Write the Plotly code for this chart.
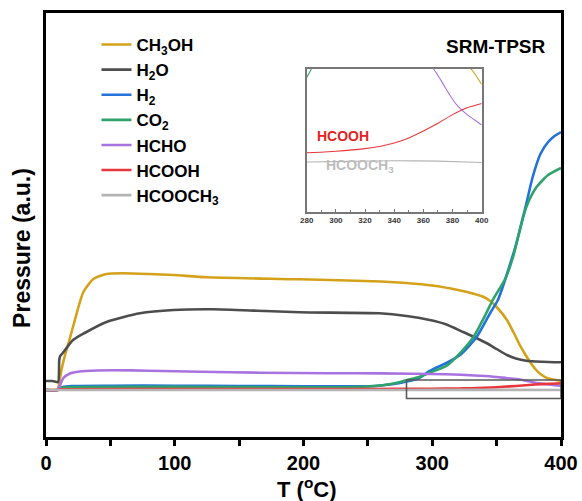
import plotly.graph_objects as go

# ---------------- data (temperature in °C, pressure in arbitrary units) ----------------
T_ch3oh = [0, 9, 10, 12, 15, 18.6, 22, 29, 36.8, 47, 60, 80, 99, 125, 197, 260, 280, 300, 320, 330, 340, 345, 350, 358, 363, 368, 372, 376, 380, 384, 390, 395, 400]
ch3oh   = [0, 0.5, 5, 20, 36, 52, 68, 98, 111, 116, 116.7, 116, 115, 112.7, 110.7, 108.5, 107, 104.5, 100, 97, 93, 89, 83, 70, 58, 45, 36, 28, 21, 16, 11.5, 10.3, 9]

T_h2o = [0, 5, 8, 9.5, 10.3, 11, 13, 21, 30, 47, 73, 99, 130, 164, 197, 259, 280, 298, 310, 324, 330, 342, 350, 358, 365, 373, 385, 400]
h2o   = [9, 9, 8, 8, 30, 34, 37, 50, 57, 68, 76.7, 80, 80.7, 79.3, 77.7, 76.7, 74, 70, 66, 58, 54.5, 47, 41, 35, 31.5, 29.3, 28.3, 27.7]

T_h2 = [0, 9, 10, 13, 20, 50, 100, 150, 200, 230, 250, 260, 270, 280, 290, 298, 311, 321.6, 334.5, 345, 351, 355, 360, 365, 370, 373, 378, 384, 390, 395, 400]
h2   = [0, 0, 1, 3, 4, 4.3, 4.3, 4, 3.8, 3.6, 3.8, 4.5, 6, 8.5, 12, 19, 27, 35, 53, 77, 90, 104, 124, 145, 170, 186, 213, 236, 248, 254, 258]

T_co2 = [0, 9, 10, 13, 20, 100, 200, 230, 250, 260, 270, 280, 290, 298, 311, 319, 332, 342, 347, 357, 363, 367, 371, 375, 381, 390, 400]
co2   = [0, 0, 1, 2.5, 3, 3.2, 2.8, 2.8, 3.5, 4.5, 6.5, 9.8, 13, 17.3, 24, 33.3, 53, 77, 90, 112, 134, 155, 175, 189, 203, 215, 222]

T_hcho = [0, 9, 10, 13.4, 18.6, 26, 40, 52, 80, 120, 166, 220, 260, 311, 337, 350, 358, 366, 372, 378, 383, 390, 395, 400]
hcho   = [0, 0, 2, 11.7, 16.5, 18.5, 19.5, 19.8, 19.3, 18.3, 17.3, 16.8, 16.6, 15.8, 14.2, 13, 11.8, 11, 9.5, 7.8, 6.6, 5.5, 4.9, 4.3]

T_hcooh = [0, 9, 11, 20, 100, 200, 280, 300, 320, 330, 340, 350, 360, 370, 380, 390, 400]
hcooh   = [0, 0, 0.6, 0.8, 0.9, 1.0, 1.08, 1.25, 1.55, 1.8, 2.2, 2.8, 3.6, 4.5, 5.5, 6.3, 6.8]

T_hcooch3 = [0, 100, 200, 280, 340, 370, 400]
hcooch3   = [0, 0, 0, 0, 0.15, 0.1, -0.05]

names = ["CH<sub>3</sub>OH", "H<sub>2</sub>O", "H<sub>2</sub>", "CO<sub>2</sub>", "HCHO", "HCOOH", "HCOOCH<sub>3</sub>"]
colors = ["#D4A21A", "#4D4D4D", "#2272D9", "#2EA36B", "#A873E0", "#E8383D", "#B4B4B4"]
series_T = [T_ch3oh, T_h2o, T_h2, T_co2, T_hcho, T_hcooh, T_hcooch3]
series_v = [ch3oh, h2o, h2, co2, hcho, hcooh, hcooch3]
in_inset = [True, False, False, True, True, True, True]

x_range = [0, 400]
y_range = [-47, 377]
x_ticks = [0, 100, 200, 300, 400]
inset_x_range = [280, 400]
inset_y_range = [-5.8, 10.8]
inset_x_ticks = [280, 300, 320, 340, 360, 380, 400]
zoom_box = [280, 400, -8.5, 10]

BOLD = dict(family="Liberation Sans, Arial, sans-serif", weight="bold")

fig = go.Figure()
for i, (tt, vv) in enumerate(zip(series_T, series_v)):
    fig.add_trace(go.Scatter(x=tt, y=vv, mode="lines", name=names[i],
                             line=dict(color=colors[i], width=2.6, shape="spline", smoothing=0.6),
                             xaxis="x", yaxis="y", legendgroup=str(i)))
for i, (tt, vv) in enumerate(zip(series_T, series_v)):
    if in_inset[i]:
        fig.add_trace(go.Scatter(x=tt, y=vv, mode="lines", showlegend=False,
                                 line=dict(color=colors[i], width=1.1, shape="spline", smoothing=0.6),
                                 xaxis="x2", yaxis="y2"))

# zoom indicator box
fig.add_shape(type="rect", xref="x", yref="y", x0=zoom_box[0], x1=zoom_box[1], y0=zoom_box[2], y1=zoom_box[3],
              line=dict(color="#5a5a5a", width=1.6))

fig.update_layout(
    width=582, height=501,
    margin=dict(l=46, r=21, t=13, b=64, autoexpand=False),
    paper_bgcolor="white", plot_bgcolor="white",
    showlegend=True,
    legend=dict(x=0.098, y=0.967, xanchor="left", yanchor="top", bgcolor="rgba(0,0,0,0)",
                font=dict(size=17, color="black", **BOLD), tracegroupgap=0),
    xaxis=dict(range=x_range, domain=[0, 1], showline=True, linecolor="black", linewidth=2.5, mirror=True,
               automargin=False,
               tickvals=x_ticks, ticks="outside", ticklen=6, tickwidth=2.5, tickcolor="black",
               minor=dict(dtick=50, ticks="outside", ticklen=6, tickwidth=2.5, tickcolor="black"),
               tickfont=dict(size=20, color="black", **BOLD), showgrid=False, zeroline=False),
    yaxis=dict(range=y_range, domain=[0, 1], showline=True, linecolor="black", linewidth=2.5, mirror=True,
               automargin=False,
               showticklabels=False, ticks="", showgrid=False, zeroline=False),
    xaxis2=dict(range=inset_x_range, domain=[0.5062, 0.846], anchor="y2", showline=True, linecolor="#777777",
                automargin=False,
                linewidth=1.5, mirror=True, tickvals=inset_x_ticks, ticks="inside", ticklen=3, tickcolor="#777777",
                minor=dict(dtick=10, ticks="inside", ticklen=2, tickcolor="#777777"),
                tickfont=dict(size=8, color="#333333", **BOLD), showgrid=False, zeroline=False),
    yaxis2=dict(range=inset_y_range, domain=[0.5307, 0.868], anchor="x2", showline=True, linecolor="#777777",
                automargin=False,
                linewidth=1.5, mirror=True, showticklabels=False, ticks="", showgrid=False, zeroline=False),
)

fig.add_annotation(text="T (<sup>o</sup>C)", xref="paper", yref="paper", x=0.507, y=-0.121,
                   xanchor="center", yanchor="middle", showarrow=False, font=dict(size=22, color="black", **BOLD))
fig.add_annotation(text="Pressure (a.u.)", xref="paper", yref="paper", x=-0.0466, y=0.446, textangle=-90,
                   xanchor="center", yanchor="middle", showarrow=False, font=dict(size=23, color="black", **BOLD))
fig.add_annotation(text="SRM-TPSR", xref="paper", yref="paper", x=0.975, y=0.92,
                   xanchor="right", yanchor="middle", showarrow=False, font=dict(size=19, color="black", **BOLD))
fig.add_annotation(text="HCOOH", xref="x2", yref="y2", x=285.7, y=3.0, xanchor="left", yanchor="middle",
                   showarrow=False, font=dict(size=14, color="#E32222", **BOLD))
fig.add_annotation(text="HCOOCH<sub>3</sub>", xref="x2", yref="y2", x=291.9, y=-0.47, xanchor="left", yanchor="middle",
                   showarrow=False, font=dict(size=14, color="#BDBDBD", **BOLD))

fig.write_html("out.html")
